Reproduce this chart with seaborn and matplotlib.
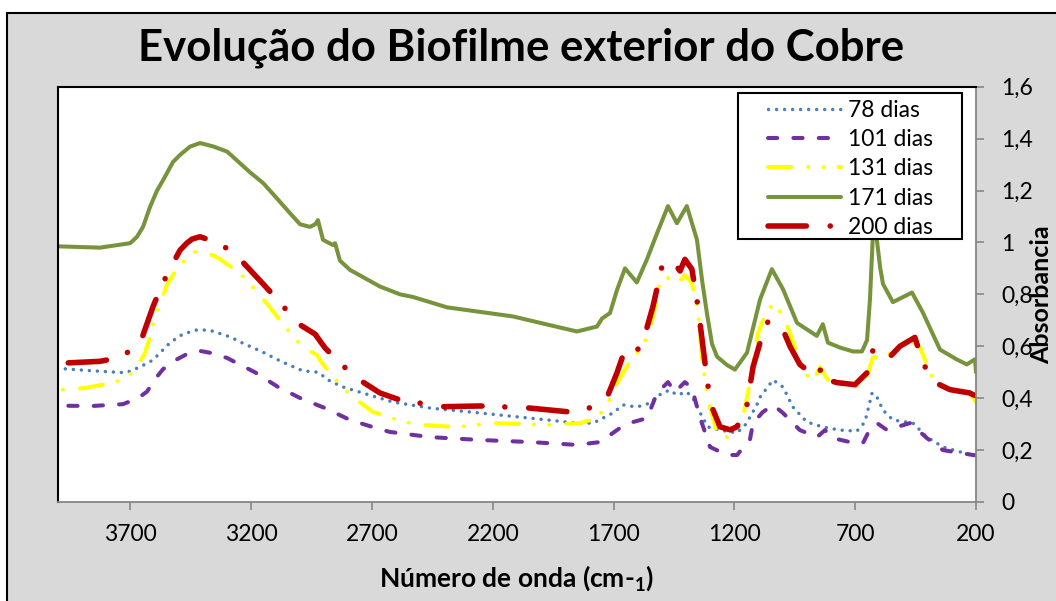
import numpy as np
import pandas as pd
import matplotlib
matplotlib.use("Agg")
import matplotlib.pyplot as plt
from matplotlib.patches import Rectangle
from matplotlib.ticker import FixedLocator, FixedFormatter
import seaborn as sns

# ---- FTIR spectra of the outer copper biofilm (wavenumber in cm-1, absorbance) ----
series_labels = ["78 dias", "101 dias", "131 dias", "171 dias", "200 dias"]

wn_78 = [4000, 3868, 3719, 3661, 3607, 3536, 3483, 3425, 3400, 3363, 3300, 3276, 3247, 3156,
         3073, 2986, 2924, 2874, 2820, 2721, 2667, 2613, 2460, 2253, 2046, 1852, 1785, 1703,
         1661, 1604, 1549, 1500, 1467, 1438, 1397, 1372, 1334, 1309, 1260, 1189, 1148, 1136,
         1107, 1094, 1040, 999, 958, 900, 834, 763, 693, 660, 630, 610, 585, 544, 461, 403,
         337, 266, 212, 200]
abs_78 = [0.515, 0.506, 0.498, 0.52, 0.547, 0.614, 0.647, 0.663, 0.663, 0.659, 0.64, 0.631,
          0.617, 0.579, 0.54, 0.505, 0.50, 0.466, 0.443, 0.415, 0.40, 0.385, 0.362, 0.343,
          0.323, 0.304, 0.304, 0.343, 0.374, 0.366, 0.381, 0.42, 0.431, 0.412, 0.424, 0.40,
          0.329, 0.289, 0.277, 0.266, 0.304, 0.327, 0.374, 0.404, 0.47, 0.443, 0.366, 0.308,
          0.289, 0.277, 0.273, 0.308, 0.42, 0.404, 0.354, 0.316, 0.304, 0.25, 0.212, 0.193,
          0.181, 0.18]

wn_101 = [4000, 3855, 3731, 3669, 3632, 3590, 3565, 3507, 3466, 3412, 3371, 3300, 3259, 3185,
          3089, 2990, 2895, 2791, 2667, 2626, 2460, 2253, 2046, 1852, 1756, 1674, 1620, 1562,
          1520, 1475, 1446, 1405, 1376, 1343, 1301, 1231, 1189, 1150, 1136, 1123, 1082, 1040,
          999, 929, 858, 825, 792, 722, 668, 647, 610, 568, 527, 473, 403, 337, 266, 212, 200]
abs_101 = [0.371, 0.37, 0.377, 0.40, 0.425, 0.483, 0.512, 0.55, 0.57, 0.582, 0.575, 0.555,
           0.535, 0.50, 0.443, 0.397, 0.362, 0.316, 0.28, 0.27, 0.25, 0.239, 0.231, 0.22,
           0.231, 0.285, 0.308, 0.323, 0.42, 0.462, 0.424, 0.462, 0.439, 0.327, 0.212, 0.181,
           0.181, 0.226, 0.239, 0.304, 0.347, 0.374, 0.343, 0.277, 0.25, 0.277, 0.246, 0.231,
           0.227, 0.266, 0.304, 0.277, 0.289, 0.304, 0.246, 0.20, 0.189, 0.181, 0.18]

wn_131 = [4000, 3888, 3764, 3710, 3673, 3640, 3623, 3607, 3586, 3549, 3516, 3478, 3445, 3412,
          3358, 3329, 3276, 3226, 3164, 3114, 3073, 3031, 2986, 2928, 2907, 2866, 2824, 2779,
          2696, 2626, 2584, 2502, 2348, 2199, 1976, 1839, 1769, 1727, 1686, 1624, 1578, 1537,
          1508, 1458, 1434, 1405, 1376, 1351, 1334, 1309, 1272, 1231, 1168, 1144, 1102, 1065,
          1032, 999, 970, 916, 875, 846, 804, 709, 672, 647, 626, 585, 515, 486, 432, 378, 308,
          225, 200]
abs_131 = [0.431, 0.439, 0.462, 0.483, 0.521, 0.574, 0.624, 0.682, 0.74, 0.836, 0.886, 0.93,
           0.96, 0.968, 0.95, 0.936, 0.90, 0.863, 0.797, 0.74, 0.69, 0.643, 0.597, 0.566,
           0.535, 0.489, 0.443, 0.404, 0.347, 0.327, 0.312, 0.297, 0.289, 0.304, 0.297, 0.304,
           0.323, 0.374, 0.458, 0.555, 0.597, 0.713, 0.855, 0.867, 0.843, 0.874, 0.843, 0.74,
           0.547, 0.393, 0.266, 0.25, 0.316, 0.42, 0.651, 0.74, 0.766, 0.713, 0.651, 0.508,
           0.462, 0.52, 0.458, 0.45, 0.443, 0.497, 0.559, 0.555, 0.597, 0.632, 0.597, 0.47,
           0.431, 0.42, 0.385]

wn_171 = [4000, 3826, 3702, 3694, 3673, 3648, 3619, 3590, 3565, 3524, 3495, 3454, 3412, 3358,
          3300, 3276, 3205, 3151, 3094, 3040, 2998, 2957, 2935, 2924, 2903, 2862, 2853, 2833,
          2791, 2721, 2667, 2584, 2531, 2390, 2117, 1976, 1852, 1769, 1748, 1715, 1686, 1653,
          1604, 1562, 1520, 1475, 1438, 1397, 1355, 1334, 1314, 1293, 1272, 1231, 1198, 1148,
          1094, 1045, 999, 941, 859, 834, 813, 763, 709, 672, 651, 639, 627, 618, 597, 585,
          544, 465, 420, 349, 279, 238, 204, 200]
abs_171 = [0.985, 0.98, 0.997, 1.003, 1.022, 1.06, 1.137, 1.2, 1.24, 1.31, 1.337, 1.369,
           1.383, 1.37, 1.35, 1.33, 1.27, 1.229, 1.17, 1.113, 1.07, 1.06, 1.07, 1.086, 1.01,
           0.99, 0.997, 0.93, 0.894, 0.858, 0.83, 0.80, 0.79, 0.75, 0.715, 0.684, 0.657,
           0.676, 0.707, 0.728, 0.817, 0.90, 0.846, 0.935, 1.036, 1.14, 1.074, 1.14, 1.01,
           0.855, 0.728, 0.61, 0.56, 0.528, 0.51, 0.575, 0.78, 0.897, 0.82, 0.69, 0.64, 0.685,
           0.614, 0.595, 0.58, 0.58, 0.624, 0.78, 1.025, 1.07, 0.905, 0.84, 0.77, 0.807, 0.73,
           0.587, 0.549, 0.53, 0.55, 0.50]

wn_200 = [4000, 3826, 3743, 3661, 3607, 3570, 3524, 3495, 3466, 3445, 3412, 3325, 3247, 3193,
          3135, 3073, 3011, 2936, 2895, 2829, 2758, 2667, 2584, 2514, 2419, 2253, 2059, 1893,
          1798, 1723, 1686, 1653, 1612, 1591, 1562, 1537, 1500, 1458, 1425, 1405, 1376, 1351,
          1322, 1309, 1289, 1260, 1218, 1189, 1148, 1123, 1094, 1061, 1003, 970, 929, 866,
          834, 813, 775, 701, 651, 626, 597, 556, 515, 453, 420, 378, 308, 225, 212, 200]
abs_200 = [0.534, 0.542, 0.557, 0.609, 0.752, 0.836, 0.92, 0.97, 0.998, 1.013, 1.022, 0.994,
           0.936, 0.882, 0.824, 0.76, 0.69, 0.647, 0.594, 0.532, 0.474, 0.42, 0.393, 0.383,
           0.367, 0.37, 0.363, 0.348, 0.363, 0.413, 0.498, 0.587, 0.58, 0.595, 0.672, 0.754,
           0.908, 0.932, 0.89, 0.935, 0.897, 0.754, 0.537, 0.445, 0.356, 0.29, 0.278, 0.29,
           0.375, 0.52, 0.614, 0.696, 0.672, 0.60, 0.53, 0.483, 0.52, 0.47, 0.46, 0.452,
           0.498, 0.587, 0.556, 0.56, 0.60, 0.634, 0.537, 0.464, 0.433, 0.42, 0.413, 0.41]

x_ticks = [3700, 3200, 2700, 2200, 1700, 1200, 700, 200]
y_ticks = [0, 0.2, 0.4, 0.6, 0.8, 1.0, 1.2, 1.4, 1.6]
y_tick_labels = ["0", "0,2", "0,4", "0,6", "0,8", "1", "1,2", "1,4", "1,6"]

spectra = {
    "78 dias": (wn_78, abs_78),
    "101 dias": (wn_101, abs_101),
    "131 dias": (wn_131, abs_131),
    "171 dias": (wn_171, abs_171),
    "200 dias": (wn_200, abs_200),
}

# line appearance per series: colour, width (pt), dash pattern
styles = {
    "78 dias": dict(color="#4a7ebb", lw=2.5, ls=(0, (0.01, 2.3))),
    "101 dias": dict(color="#7030a0", lw=2.9, ls=(0, (2.3, 4.0))),
    "131 dias": dict(color="#ffff00", lw=2.9, ls=(0, (5.75, 4.25, 0.01, 3.75, 0.01, 3.75))),
    "171 dias": dict(color="#77933c", lw=2.9, ls="-"),
    "200 dias": dict(color="#c00000", lw=4.0, ls=(0, (6.9, 4.3, 0.01, 4.1))),
}

frames = []
for name in series_labels:
    wn, ab = spectra[name]
    frames.append(pd.DataFrame({"wavenumber": wn, "absorbance": ab, "amostra": name}))
df = pd.concat(frames, ignore_index=True)

sns.set_style("white")
plt.rcParams["font.family"] = ["Lato", "DejaVu Sans"]
plt.rcParams["text.color"] = "black"
plt.rcParams["axes.labelcolor"] = "black"
plt.rcParams["mathtext.fontset"] = "custom"
plt.rcParams["mathtext.rm"] = "Lato"
plt.rcParams["mathtext.bf"] = "Lato:bold"

W, H = 1056, 601
fig = plt.figure(figsize=(W / 100, H / 100), dpi=100, facecolor="white")

# grey chart area with black frame
fig.add_artist(Rectangle((7 / W, -0.1), 1.2, 1 - 13 / H + 0.1, transform=fig.transFigure,
                         facecolor="#d9d9d9", edgecolor="black", linewidth=1.5, zorder=-1))

left, right, top, bottom = 58, 976, 86.7, 502
ax = fig.add_axes([left / W, 1 - bottom / H, (right - left) / W, (bottom - top) / H])
ax.set_facecolor("white")

for name in series_labels:
    st = styles[name]
    sub = df[df["amostra"] == name]
    sns.lineplot(data=sub, x="wavenumber", y="absorbance", ax=ax, label=name,
                 color=st["color"], linewidth=st["lw"], linestyle=st["ls"],
                 estimator=None, errorbar=None, dash_capstyle="round",
                 solid_capstyle="round", dash_joinstyle="round",
                 solid_joinstyle="round", legend=False)

ax.set_xlim(4000, 200)
ax.set_ylim(0, 1.6)
ax.xaxis.set_major_locator(FixedLocator(x_ticks))
ax.set_xticklabels([str(v) for v in x_ticks])
ax.yaxis.set_major_locator(FixedLocator(y_ticks))
ax.yaxis.set_major_formatter(FixedFormatter(y_tick_labels))
ax.yaxis.tick_right()
ax.set_xlabel("")
ax.set_ylabel("")

for side in ("left", "top"):
    ax.spines[side].set_color("black")
    ax.spines[side].set_linewidth(1.5)
for side in ("right", "bottom"):
    ax.spines[side].set_color("#868686")
    ax.spines[side].set_linewidth(1.3)

ax.tick_params(axis="x", direction="out", length=6, width=1.2, color="#868686",
               pad=10, labelsize=16.5, labelcolor="black", bottom=True)
ax.tick_params(axis="y", direction="out", length=6, width=1.2, color="#868686",
               pad=12, labelsize=16.5, labelcolor="black", right=True, left=False)

# legend box and entries
ax.add_patch(Rectangle((0.7407, 0.6333), 0.9847 - 0.7407, 0.9848 - 0.6333,
                       transform=ax.transAxes, facecolor="white", edgecolor="black",
                       linewidth=1.5, zorder=4.9))
handles, labels = ax.get_legend_handles_labels()
leg = ax.legend(handles, labels, loc="upper left", bbox_to_anchor=(0.7734, 0.968),
                frameon=False, borderpad=0, borderaxespad=0, handlelength=3.2,
                handletextpad=0.3, labelspacing=0.36, labelcolor="black",
                prop={"family": "Lato", "size": 16.5})
leg.set_zorder(5)

fig.text(521 / W, 1 - 60 / H, "Evolução do Biofilme exterior do Cobre", ha="center",
         va="baseline", fontsize=31.5, fontweight="bold", color="black")
fig.text(516.5 / W, 1 - 587 / H, r"Número de onda (cm-$\mathbf{_1}$)", ha="center",
         va="baseline", fontsize=19, fontweight="bold", color="black")
fig.text(1042 / W, 1 - 295 / H, "Absorbancia", ha="center", va="center", rotation=90,
         fontsize=18, fontweight="bold", color="black")

fig.savefig("out.png", dpi=100, facecolor=fig.get_facecolor())
